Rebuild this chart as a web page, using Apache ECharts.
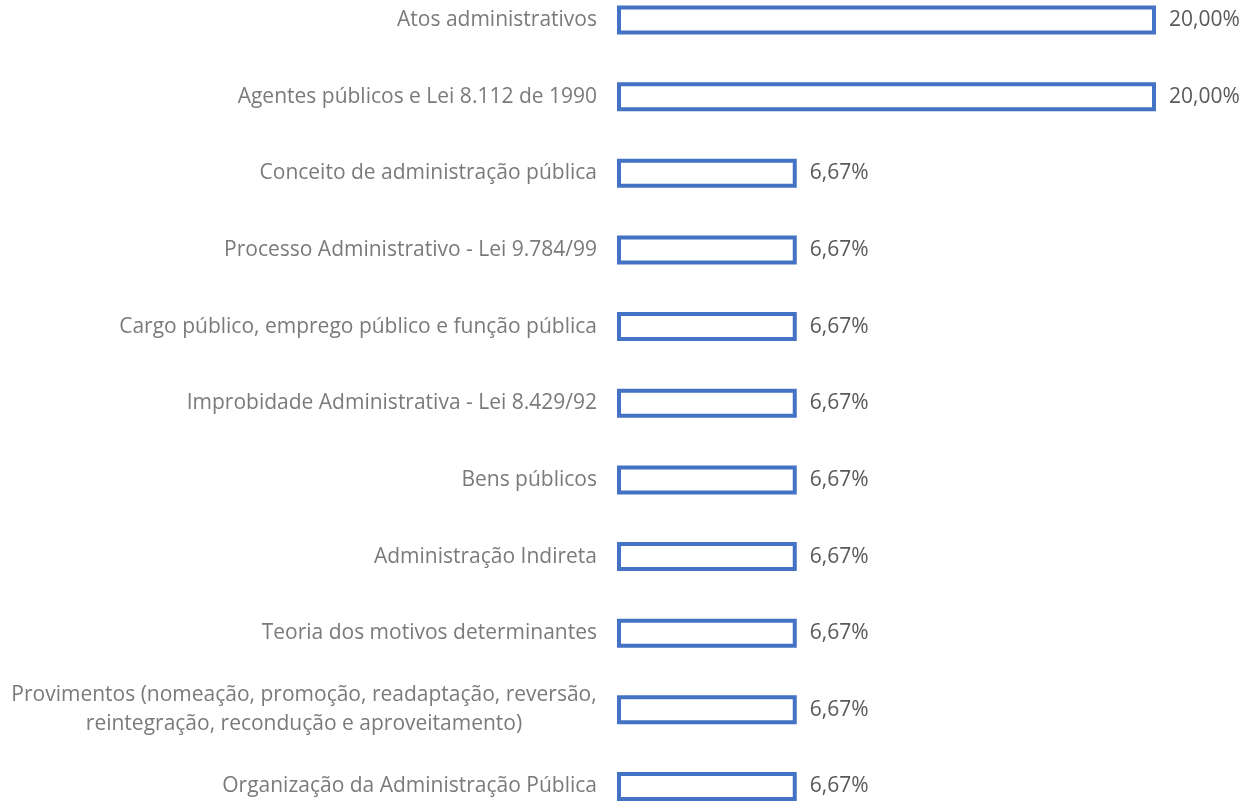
<!DOCTYPE html>
<html>
<head>
<meta charset="utf-8">
<script src="https://cdn.jsdelivr.net/npm/echarts@6/dist/echarts.min.js"></script>
<style>
  html, body { margin: 0; padding: 0; background: #fff; }
  #chart { width: 1257px; height: 801px; }
</style>
</head>
<body>
<div id="chart"></div>
<script>
var categories = [
  "Atos administrativos",
  "Agentes públicos e Lei 8.112 de 1990",
  "Conceito de administração pública",
  "Processo Administrativo - Lei 9.784/99",
  "Cargo público, emprego público e função pública",
  "Improbidade Administrativa - Lei 8.429/92",
  "Bens públicos",
  "Administração Indireta",
  "Teoria dos motivos determinantes",
  "Provimentos (nomeação, promoção, readaptação, reversão,\nreintegração, recondução e aproveitamento)",
  "Organização da Administração Pública"
];
var values = [20, 20, 6.67, 6.67, 6.67, 6.67, 6.67, 6.67, 6.67, 6.67, 6.67];

var FONT = "Open Sans";
var labelSize = 21;

// width of the widest line of a multi-line label, to center its lines
function textWidth(str) {
  var ctx = document.createElement("canvas").getContext("2d");
  ctx.font = labelSize + "px " + FONT;
  return ctx.measureText(str).width;
}

var chart = echarts.init(document.getElementById("chart"), null, { renderer: "canvas" });

var option = {
  backgroundColor: "#fff",
  animation: false,
  grid: { left: 617, right: 101, top: 20, bottom: 13 },
  xAxis: {
    type: "value",
    min: 0,
    max: 20,
    show: false
  },
  yAxis: {
    type: "category",
    inverse: true,
    boundaryGap: false,
    data: categories,
    axisLine: { show: false },
    axisTick: { show: false },
    splitLine: { show: false },
    axisLabel: {
      margin: 20,
      color: "#7a7a7a",
      fontFamily: FONT,
      fontSize: labelSize,
      lineHeight: 29,
      formatter: function (val) {
        if (val.indexOf("\n") < 0) return val;
        var lines = val.split("\n");
        return lines.map(function (l) { return "{c|" + l + "}"; }).join("\n");
      },
      rich: {
        c: {
          width: Math.ceil(textWidth(categories[9].split("\n")[0])),
          align: "center",
          color: "#7a7a7a",
          fontFamily: FONT,
          fontSize: labelSize,
          lineHeight: 29
        }
      }
    }
  },
  series: [{
    type: "bar",
    data: values,
    barWidth: 29,
    itemStyle: {
      color: "#ffffff",
      borderColor: "#4472C4",
      borderWidth: 4
    },
    label: {
      show: true,
      position: "right",
      distance: 13,
      color: "#595959",
      fontFamily: FONT,
      fontSize: labelSize,
      formatter: function (p) {
        return p.value.toFixed(2).replace(".", ",") + "%";
      }
    }
  }]
};

chart.setOption(option);
</script>
</body>
</html>
